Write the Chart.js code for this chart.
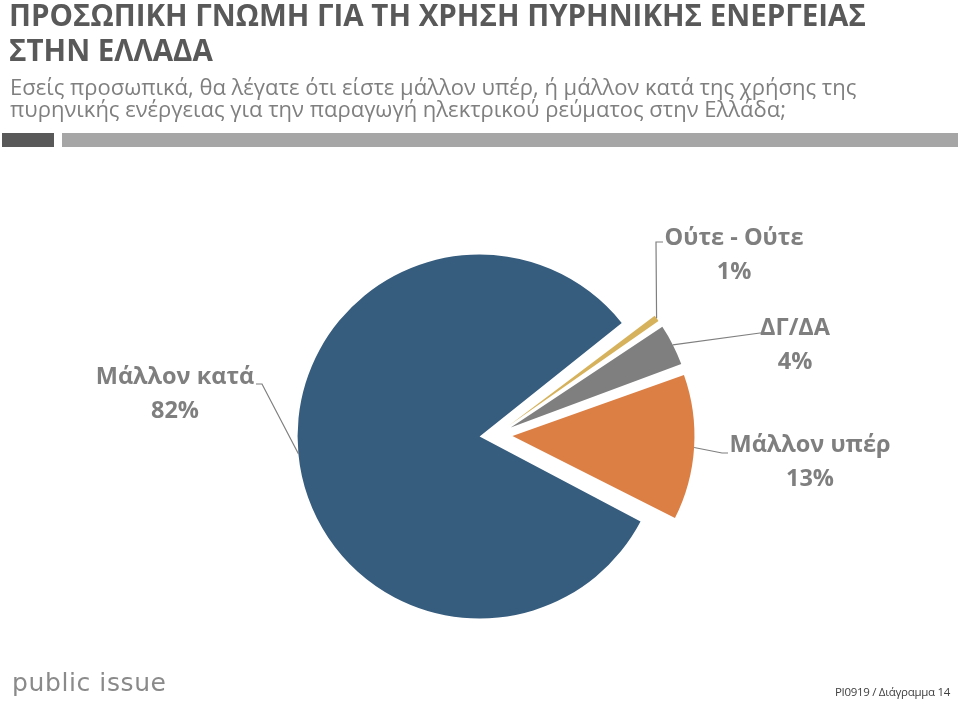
<!DOCTYPE html>
<html>
<head>
<meta charset="utf-8">
<script src="https://cdn.jsdelivr.net/npm/chart.js@4"></script>
<style>
  html, body { margin: 0; padding: 0; background: #fff; }
  #page { position: relative; width: 960px; height: 702px; overflow: hidden; font-family: "Open Sans", sans-serif; }
  #pie { position: absolute; left: 0; top: 0; }
  .title { position: absolute; left: 9px; top: -3px; font-weight: 700; font-size: 29.5px; line-height: 35px; color: #595959; white-space: nowrap; }
  .sub { position: absolute; left: 10px; top: 75px; font-size: 22px; line-height: 22px; color: #7f7f7f; white-space: nowrap; }
  .bar { position: absolute; top: 133px; height: 14px; }
  .logo { position: absolute; left: 12px; top: 668px; font-family: "DejaVu Sans", sans-serif; font-size: 25px; color: #8a8a8a; letter-spacing: 0.6px; }
  .foot { position: absolute; right: 10px; top: 684px; font-size: 11.5px; letter-spacing: -0.3px; color: #404040; }
</style>
</head>
<body>
<div id="page">
  <canvas id="pie" width="960" height="702"></canvas>
  <div class="title">ΠΡΟΣΩΠΙΚΗ ΓΝΩΜΗ ΓΙΑ ΤΗ ΧΡΗΣΗ ΠΥΡΗΝΙΚΗΣ ΕΝΕΡΓΕΙΑΣ<br>ΣΤΗΝ ΕΛΛΑΔΑ</div>
  <div class="sub">Εσείς προσωπικά, θα λέγατε ότι είστε μάλλον υπέρ, ή μάλλον κατά της χρήσης της<br>πυρηνικής ενέργειας για την παραγωγή ηλεκτρικού ρεύματος στην Ελλάδα;</div>
  <div class="bar" style="left:2px;width:52px;background:#595959"></div>
  <div class="bar" style="left:62px;width:896px;background:#a6a6a6"></div>
  <div class="logo">public issue</div>
  <div class="foot">PI0919 / Διάγραμμα 14</div>
</div>
<script>
const categories = ['Μάλλον κατά', 'Ούτε - Ούτε', 'ΔΓ/ΔΑ', 'Μάλλον υπέρ'];
const values = [82, 1, 4, 13];
const colors = ['#365c7e', '#d6b25c', '#7f7f7f', '#dc7f45'];

const PIE_R = 182;      // drawn radius of every slice
const EXPLODE = 66;     // Chart.js offset (moves each slice out by EXPLODE / 4)

// where each label sits: text centre x, first baseline y, elbow and end of leader line
const labelLayout = [
  { x: 175, y: 384, elbow: [262, 384], end: [256, 384] },
  { x: 734, y: 245, elbow: [656, 242], end: [663, 242] },
  { x: 795, y: 335, elbow: [760, 333], end: [764, 333] },
  { x: 810, y: 452, elbow: [722, 453], end: [728, 453] }
];

function arcFix(arc) {
  const circ = arc.endAngle - arc.startAngle;
  return 1 - Math.sin(Math.min(Math.PI, circ));
}

// Chart.js grows an offset slice's radius; trim it so all slices keep the same size
const evenRadius = {
  id: 'evenRadius',
  beforeDatasetsDraw(chart) {
    chart.getDatasetMeta(0).data.forEach(arc => {
      const off = (arc.options.offset || 0) / 4;
      arc.outerRadius = PIE_R - off * arcFix(arc);
    });
  }
};

const pieLabels = {
  id: 'pieLabels',
  afterDatasetsDraw(chart) {
    const ctx = chart.ctx;
    const meta = chart.getDatasetMeta(0);
    ctx.save();
    meta.data.forEach((arc, i) => {
      const mid = (arc.startAngle + arc.endAngle) / 2;
      const off = (arc.options.offset || 0) / 4;
      const dist = off + PIE_R;
      const sx = arc.x + Math.cos(mid) * dist;
      const sy = arc.y + Math.sin(mid) * dist;
      const L = labelLayout[i];
      ctx.strokeStyle = '#7f7f7f';
      ctx.lineWidth = 1.2;
      ctx.beginPath();
      ctx.moveTo(sx, sy);
      ctx.lineTo(L.elbow[0], L.elbow[1]);
      ctx.lineTo(L.end[0], L.end[1]);
      ctx.stroke();
      ctx.fillStyle = '#7f7f7f';
      ctx.font = 'bold 23.5px "Open Sans"';
      ctx.textAlign = 'center';
      ctx.textBaseline = 'alphabetic';
      ctx.fillText(categories[i], L.x, L.y);
      ctx.fillText(values[i] + '%', L.x, L.y + 34);
    });
    ctx.restore();
  }
};

new Chart(document.getElementById('pie'), {
  type: 'pie',
  data: {
    labels: categories,
    datasets: [{
      data: values,
      backgroundColor: colors,
      borderWidth: 0,
      offset: EXPLODE
    }]
  },
  options: {
    responsive: false,
    animation: false,
    rotation: 117,
    radius: PIE_R,
    layout: { padding: { left: 32, top: 168, right: 0, bottom: 0 } },
    plugins: {
      legend: { display: false },
      tooltip: { enabled: false }
    }
  },
  plugins: [evenRadius, pieLabels]
});
</script>
</body>
</html>
